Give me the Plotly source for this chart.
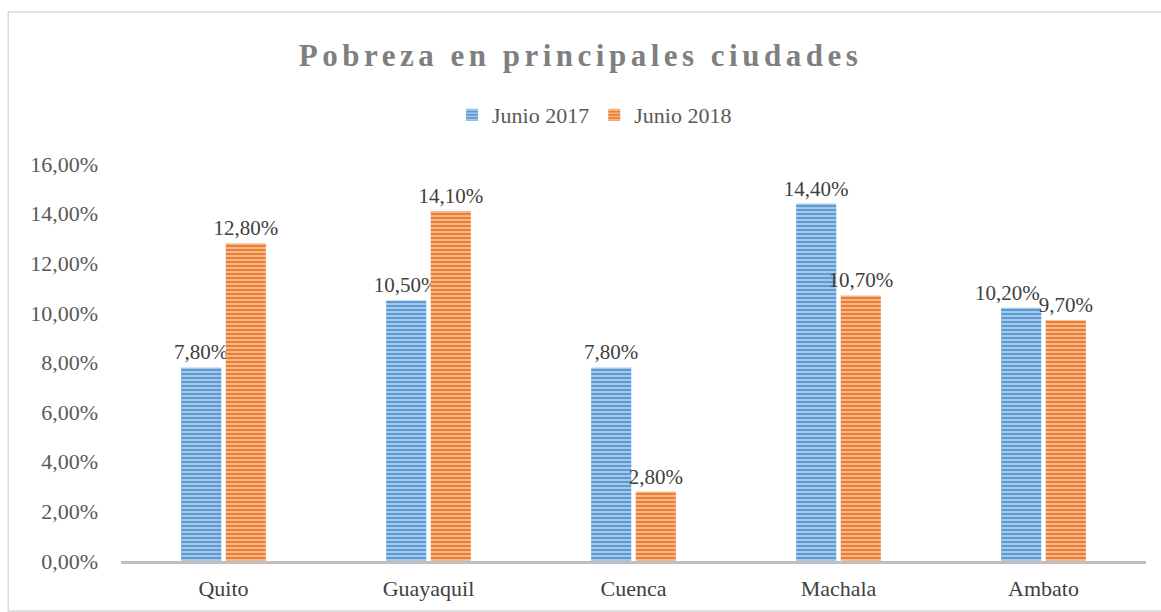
import plotly.graph_objects as go

ciudades = ['Quito', 'Guayaquil', 'Cuenca', 'Machala', 'Ambato']
junio_2017 = [0.078, 0.105, 0.078, 0.144, 0.102]
junio_2018 = [0.128, 0.141, 0.028, 0.107, 0.097]

SERIF = 'Liberation Serif, Times New Roman, serif'
LABEL_FONT = dict(family=SERIF, size=21, color='#404040')

def pct(v):
    return f'{v:.2%}'.replace('.', ',')

fig = go.Figure()

def add_series(name, values, color, stripe, skip=()):
    fig.add_trace(go.Bar(
        x=ciudades,
        y=values,
        name=name,
        marker=dict(
            color=color,
            line=dict(width=0),
            pattern=dict(shape='-', fillmode='replace', bgcolor=color,
                         fgcolor=stripe, size=4, solidity=0.4),
        ),
        text=['' if c in skip else pct(v) for c, v in zip(ciudades, values)],
        textposition='outside',
        textangle=0,
        constraintext='none',
        cliponaxis=False,
        textfont=LABEL_FONT,
    ))

add_series('Junio 2017', junio_2017, '#5b9bd5', '#b9d3ee', skip=('Ambato',))
add_series('Junio 2018', junio_2018, '#ed7d31', '#f8c6a3')

# Ambato 2017 label nudged left like in the original so it doesn't sit on 9,70%
i = ciudades.index('Ambato')
fig.add_annotation(x='Ambato', y=junio_2017[i], text=pct(junio_2017[i]),
                   showarrow=False, yanchor='bottom', xshift=-36, yshift=1,
                   font=LABEL_FONT)

# chart border
fig.add_shape(type='rect', xref='paper', yref='paper',
              x0=-0.110, x1=1.03, y0=-0.1217, y1=1.336,
              line=dict(color='#d9d9d9', width=1.5), layer='below')

fig.update_layout(
    width=1161, height=612,
    margin=dict(l=121, r=15, t=150, b=51),
    plot_bgcolor='white', paper_bgcolor='white',
    separators=',.',
    font=dict(family=SERIF, size=22, color='#595959'),
    title=dict(text='<span style="letter-spacing:4.5px"><b>Pobreza en principales ciudades</b></span>',
               x=0.5, xanchor='center', y=0.91, yanchor='middle',
               font=dict(family=SERIF, size=31, color='#7f7f7f')),
    legend=dict(orientation='h', x=0.462, xanchor='center', y=1.085, yanchor='middle',
                font=dict(family=SERIF, size=22, color='#595959'),
                itemwidth=30, tracegroupgap=0),
    bargap=0.565, bargroupgap=0.1,
    xaxis=dict(showline=True, linecolor='#bfbfbf', linewidth=3, ticks='',
               ticklabelstandoff=6,
               tickfont=dict(family=SERIF, size=22, color='#404040')),
    yaxis=dict(range=[0, 0.1656], tickvals=[i / 100 for i in range(0, 17, 2)],
               tickformat='.2%', showgrid=False, zeroline=False, showline=False,
               ticklabelstandoff=22,
               tickfont=dict(family=SERIF, size=22, color='#595959')),
)

fig.write_html('out.html', config={'displayModeBar': False},
               post_script="document.body.style.margin='0';")
